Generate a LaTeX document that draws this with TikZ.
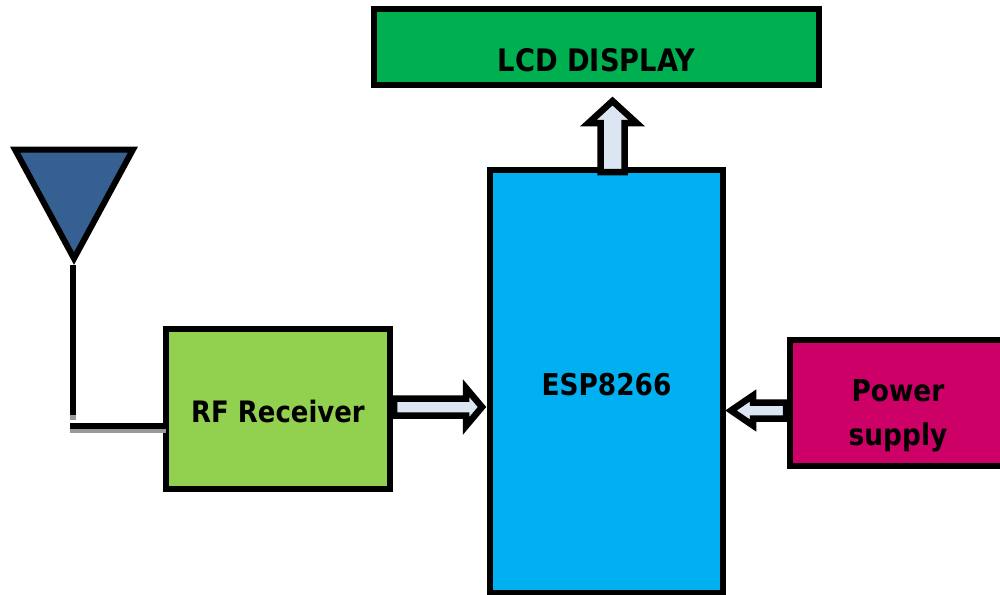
\documentclass[tikz,border=0pt]{standalone}
\usepackage{fontspec}
\setmainfont{DejaVu Sans}[FakeStretch=0.88]
\usetikzlibrary{calc}
\definecolor{lcdgreen}{HTML}{00B050}
\definecolor{espblue}{HTML}{00B0F0}
\definecolor{rfgreen}{HTML}{92D050}
\definecolor{powerred}{HTML}{CC0066}
\definecolor{antblue}{HTML}{376092}
\definecolor{arrowfill}{HTML}{DCE6F2}
\tikzset{
 blockbox/.style={draw=black, line width=6pt, rectangle, outer sep=0pt, inner sep=0pt},
 blocktext/.style={font=\fontsize{30}{44}\selectfont\bfseries, text=black, align=center, inner sep=0pt},
 antline/.style={draw=black, line width=6pt},
 antshade/.style={draw=black!40, line width=6pt},
 % shaft half width, head half width, head length
 blockarrow/.style n args={3}{draw=black, line width=6.5pt, fill=arrowfill, miter limit=10,
  to path={
   ($(\tikztostart)!#1!90:(\tikztotarget)$)
   -- ($($(\tikztotarget)!#3!(\tikztostart)$)!#1!90:(\tikztotarget)$)
   -- ($($(\tikztotarget)!#3!(\tikztostart)$)!#2!90:(\tikztotarget)$)
   -- (\tikztotarget)
   -- ($($(\tikztotarget)!#3!(\tikztostart)$)!#2!-90:(\tikztotarget)$)
   -- ($($(\tikztotarget)!#3!(\tikztostart)$)!#1!-90:(\tikztotarget)$)
   -- ($(\tikztostart)!#1!-90:(\tikztotarget)$) -- cycle}},
}
\begin{document}
\begin{tikzpicture}[x=1pt,y=-1pt]
\useasboundingbox (0,0) rectangle (1000,594);
% blocks
\node[blockbox, fill=lcdgreen, minimum width=445pt, minimum height=76pt, label={[blocktext, font=\fontsize{31}{44}\selectfont\bfseries, name=lcdtext, yshift=-13pt]center:LCD DISPLAY}] (lcd) at (596.5,47) {};
\node[blockbox, fill=espblue, minimum width=233pt, minimum height=423pt, label={[blocktext, name=esptext, yshift=-4pt]center:ESP8266}] (esp) at (606.5,381) {};
\node[blockbox, fill=rfgreen, minimum width=224pt, minimum height=160pt, label={[blocktext, font=\fontsize{29.5}{44}\selectfont\bfseries, name=rftext, yshift=-2pt]center:RF Receiver}] (rf) at (278,409) {};
\node[blockbox, fill=powerred, minimum width=216pt, minimum height=126pt, label={[blocktext, name=powertext, yshift=-13pt]center:Power\\supply}] (power) at (898,403) {};
% antenna
\coordinate (anttip) at (73,265);
\coordinate (antend) at (73,415);
\coordinate (antfoot) at (70,426);
\draw[antshade] ($(antend)+(0,-5)$) -- ++(0,10);
\draw[antshade] ($(antfoot)+(0,4)$) -- ($(antfoot -| rf.west)+(0,4)$);
\draw[antline] (anttip) -- (antend);
\draw[antline] (antfoot) -- (antfoot -| rf.west);
\draw[draw=black, fill=antblue, line width=6pt, miter limit=10] (15,149.5) -- (133,149.5) -- (74,258.5) -- cycle;
% arrows
\coordinate (rfout) at (394,407);
\coordinate (espin) at (482,407);
\coordinate (espout) at (612.5,172);
\coordinate (lcdin) at (612.5,101);
\coordinate (powerout) at (786,410.5);
\coordinate (esppower) at (731,410.5);
\draw[blockarrow={8.5pt}{19pt}{16pt}] (rfout) to (espin);
\draw[blockarrow={12pt}{24pt}{22pt}] (espout) to (lcdin);
\draw[blockarrow={8pt}{15pt}{22pt}] (powerout) to (esppower);
\end{tikzpicture}
\end{document}
